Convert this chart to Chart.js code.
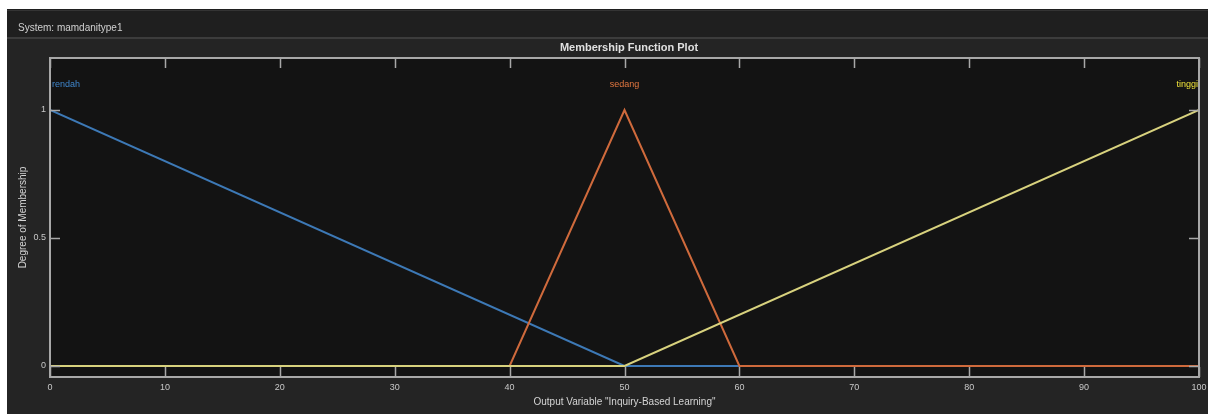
<!DOCTYPE html>
<html>
<head>
<meta charset="utf-8">
<title>Membership Function Plot</title>
<script src="https://cdn.jsdelivr.net/npm/chart.js@4.4.1/dist/chart.umd.min.js"></script>
<style>
  html, body { margin: 0; padding: 0; background: #ffffff; }
  #wrap { position: absolute; left: 0; top: 0; width: 1208px; height: 414px; }
</style>
</head>
<body>
<div id="wrap"><canvas id="mf" width="1208" height="414"></canvas></div>
<script>
// Output variable "Inquiry-Based Learning", range 0..100
const xTicks = [0, 10, 20, 30, 40, 50, 60, 70, 80, 90, 100];
const yTicks = [0, 0.5, 1];

// Membership function breakpoints
const rendahX = [0, 50, 100];
const rendahY = [1, 0, 0];
const sedangX = [0, 40, 50, 60, 100];
const sedangY = [0, 0, 1, 0, 0];
const tinggiX = [0, 50, 100];
const tinggiY = [0, 0, 1];

// Function names and where each name sits (x anchor, y level, alignment)
const mfNames = ['rendah', 'sedang', 'tinggi'];
const mfNameX = [0, 50, 100];
const mfNameAlign = ['left', 'center', 'right'];
const mfNameY = 1.1;

const colRendah = '#3d79b6';
const colSedang = '#cf6a3c';
const colTinggi = '#d8d27e';
const nameColors = ['#3f86cc', '#e0763f', '#f0e23a'];

const toPoints = (xs, ys) => xs.map((x, i) => ({ x: x, y: ys[i] }));

const FONT = '"Liberation Sans", Arial, sans-serif';

const framePlugin = {
  id: 'mfFrame',
  beforeDraw(chart) {
    const ctx = chart.ctx;
    const W = chart.width, H = chart.height;
    const a = chart.chartArea;
    ctx.save();
    ctx.fillStyle = '#ffffff';
    ctx.fillRect(0, 0, W, H);
    // window panel
    ctx.fillStyle = '#242424';
    ctx.fillRect(7, 9, W - 7, H - 9);
    ctx.fillStyle = '#1f1f1f';
    ctx.fillRect(7, 9, W - 7, 28);
    ctx.fillStyle = '#343434';
    ctx.fillRect(7, 10, W - 7, 1);
    ctx.fillStyle = '#3c3c3c';
    ctx.fillRect(7, 37, W - 7, 2);
    // header texts
    ctx.fillStyle = '#d0d0d0';
    ctx.font = '10px ' + FONT;
    ctx.textAlign = 'left';
    ctx.textBaseline = 'middle';
    ctx.fillText('System: mamdanitype1', 18, 28);
    ctx.font = 'bold 11px ' + FONT;
    ctx.textAlign = 'center';
    ctx.fillStyle = '#e0e0e0';
    ctx.fillText('Membership Function Plot', 629, 48);
    // plot background
    ctx.fillStyle = '#131313';
    ctx.fillRect(a.left, a.top, a.right - a.left, a.bottom - a.top);
    ctx.restore();
  },
  afterDatasetsDraw(chart) {
    const ctx = chart.ctx;
    const a = chart.chartArea;
    const xs = chart.scales.x, ys = chart.scales.y;
    ctx.save();
    // axes box
    ctx.strokeStyle = '#a8a8a8';
    ctx.lineWidth = 2;
    ctx.strokeRect(a.left, a.top, a.right - a.left, a.bottom - a.top);
    // inward tick marks on all four sides
    ctx.lineWidth = 1.5;
    ctx.beginPath();
    const tl = 10;
    xTicks.forEach(v => {
      const px = Math.round(xs.getPixelForValue(v)) + 0.5;
      ctx.moveTo(px, a.bottom); ctx.lineTo(px, a.bottom - tl);
      ctx.moveTo(px, a.top); ctx.lineTo(px, a.top + tl);
    });
    yTicks.forEach(v => {
      const py = Math.round(ys.getPixelForValue(v)) + 0.5;
      ctx.moveTo(a.left, py); ctx.lineTo(a.left + tl, py);
      ctx.moveTo(a.right, py); ctx.lineTo(a.right - tl, py);
    });
    ctx.stroke();
    // membership function names
    ctx.font = '9px ' + FONT;
    ctx.textBaseline = 'middle';
    mfNames.forEach((n, i) => {
      let px = xs.getPixelForValue(mfNameX[i]);
      if (mfNameAlign[i] === 'left') px += 2;
      if (mfNameAlign[i] === 'right') px -= 1;
      ctx.textAlign = mfNameAlign[i];
      ctx.fillStyle = nameColors[i];
      ctx.fillText(n, px, ys.getPixelForValue(mfNameY));
    });
    ctx.restore();
  }
};

new Chart(document.getElementById('mf'), {
  type: 'line',
  data: {
    datasets: [
      { label: 'rendah', data: toPoints(rendahX, rendahY), borderColor: colRendah, borderWidth: 2, order: 3 },
      { label: 'sedang', data: toPoints(sedangX, sedangY), borderColor: colSedang, borderWidth: 2, order: 2 },
      { label: 'tinggi', data: toPoints(tinggiX, tinggiY), borderColor: colTinggi, borderWidth: 2, order: 1 }
    ]
  },
  options: {
    responsive: false,
    animation: false,
    devicePixelRatio: 1,
    elements: {
      point: { radius: 0, hoverRadius: 0 },
      line: { tension: 0, fill: false }
    },
    layout: { padding: { left: 7, top: 58, right: 9, bottom: 0 } },
    plugins: {
      legend: { display: false },
      tooltip: { enabled: false },
      title: { display: false }
    },
    scales: {
      x: {
        type: 'linear',
        min: 0,
        max: 100,
        grid: { display: false, drawTicks: false },
        border: { display: false },
        afterBuildTicks: s => { s.ticks = xTicks.map(v => ({ value: v })); },
        afterFit: s => { s.height = 37; s.paddingLeft = 0; s.paddingRight = 0; },
        ticks: {
          color: '#c8c8c8',
          font: { family: FONT, size: 9 },
          padding: 5,
          maxRotation: 0,
          autoSkip: false
        },
        title: {
          display: true,
          text: 'Output Variable "Inquiry-Based Learning"',
          color: '#d4d4d4',
          font: { family: FONT, size: 10 },
          padding: { top: 0, bottom: 6 }
        }
      },
      y: {
        type: 'linear',
        min: -0.043,
        max: 1.203,
        grid: { display: false, drawTicks: false },
        border: { display: false },
        afterBuildTicks: s => { s.ticks = yTicks.map(v => ({ value: v })); },
        afterFit: s => { s.width = 43; s.paddingTop = 0; s.paddingBottom = 0; },
        ticks: {
          color: '#c8c8c8',
          font: { family: FONT, size: 9 },
          padding: 4,
          autoSkip: false,
          callback: v => String(v)
        },
        title: {
          display: true,
          text: 'Degree of Membership',
          color: '#d4d4d4',
          font: { family: FONT, size: 10 },
          padding: { top: 10, bottom: 0 }
        }
      }
    }
  },
  plugins: [framePlugin]
});
</script>
</body>
</html>
